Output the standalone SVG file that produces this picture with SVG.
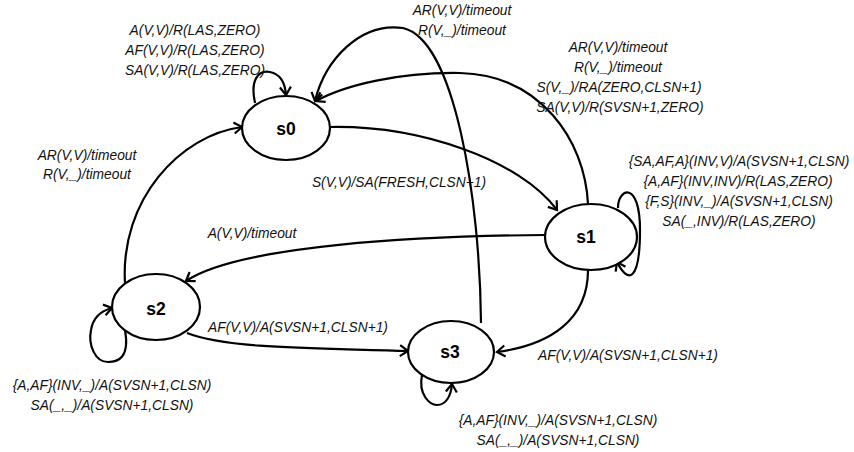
<svg xmlns="http://www.w3.org/2000/svg" width="854" height="452" viewBox="0 0 854 452">
  <style>
    .state { fill: #ffffff; stroke: #000000; stroke-width: 2.2; }
    .name { font-family: "Liberation Sans", Arial, sans-serif; font-weight: bold; font-size: 17.5px; text-anchor: middle; fill: #000000; }
    .edge { fill: none; stroke: #000000; stroke-width: 2.2; marker-end: url(#arrow); }
    .lbl { font-family: "Liberation Sans", Arial, sans-serif; font-style: italic; font-size: 13.8px; text-anchor: middle; fill: #111111; }
  </style>
  <defs>
    <marker id="arrow" markerUnits="userSpaceOnUse" markerWidth="20" markerHeight="20" viewBox="-10 -10 20 20" refX="0" refY="0" orient="auto">
      <path d="M-8,-5.5 L0,0 L-8,5.5" fill="none" stroke="#000000" stroke-width="2.2" stroke-linejoin="miter"/>
    </marker>
  </defs>
  <rect width="854" height="452" fill="#ffffff"/>

  <!-- transitions -->
  <g id="connectors">
    <!-- s0 self-loop -->
    <path class="edge" d="M255,103 C250,80 258,70 270,72 C280,74 285,82 286,95"/>
    <!-- s2 -> s0 -->
    <path class="edge" d="M125,283 C120,200 180,135 242,127"/>
    <!-- s3 -> s0 (over the top) -->
    <path class="edge" d="M481,323 C480,200 455,40 403,28 C360,22 325,60 315,101"/>
    <!-- s1 -> s0 -->
    <path class="edge" d="M588,204 C585,140 540,75 460,73 C400,72 345,85 316,101"/>
    <!-- s0 -> s1 -->
    <path class="edge" d="M329,127 C420,125 520,160 557,210"/>
    <!-- s1 -> s2 -->
    <path class="edge" d="M545,235 C420,236 240,245 186,281"/>
    <!-- s2 -> s3 -->
    <path class="edge" d="M187,333 C230,350 330,348 408,351"/>
    <!-- s1 -> s3 -->
    <path class="edge" d="M588,270 C588,320 550,345 497,352"/>
    <!-- s1 self-loop -->
    <path class="edge" d="M618,208 C618,188 640,180 640,230 C640,282 628,284 617,262"/>
    <!-- s2 self-loop -->
    <path class="edge" d="M125,330 C130,358 118,362 108,362 C95,362 88,345 91,330 C93,318 100,311 112,308"/>
    <!-- s3 self-loop -->
    <path class="edge" d="M422,375 C418,395 430,405 437,405 C446,405 451,396 452,384"/>
  </g>

  <!-- states -->
  <g id="s0">
    <ellipse class="state" cx="286" cy="128" rx="44" ry="32"/>
    <text class="name" x="286" y="135">s0</text>
  </g>
  <g id="s1">
    <ellipse class="state" cx="591" cy="237" rx="46" ry="33"/>
    <text class="name" x="586" y="243">s1</text>
  </g>
  <g id="s2">
    <ellipse class="state" cx="156" cy="307" rx="44" ry="33"/>
    <text class="name" x="156" y="315">s2</text>
  </g>
  <g id="s3">
    <ellipse class="state" cx="451" cy="352" rx="43" ry="31"/>
    <text class="name" x="450" y="358">s3</text>
  </g>

  <!-- transition labels -->
  <g id="labels">
    <text class="lbl" x="195" y="35">A(V,V)/R(LAS,ZERO)</text>
    <text class="lbl" x="195" y="55">AF(V,V)/R(LAS,ZERO)</text>
    <text class="lbl" x="195" y="75">SA(V,V)/R(LAS,ZERO)</text>

    <text class="lbl" x="87" y="160">AR(V,V)/timeout</text>
    <text class="lbl" x="87" y="179">R(V,_)/timeout</text>

    <text class="lbl" x="462" y="15">AR(V,V)/timeout</text>
    <text class="lbl" x="462" y="35">R(V,_)/timeout</text>

    <text class="lbl" x="618" y="52">AR(V,V)/timeout</text>
    <text class="lbl" x="618" y="72">R(V,_)/timeout</text>
    <text class="lbl" x="619" y="92">S(V,_)/RA(ZERO,CLSN+1)</text>
    <text class="lbl" x="620" y="112">SA(V,V)/R(SVSN+1,ZERO)</text>

    <text class="lbl" x="399" y="187">S(V,V)/SA(FRESH,CLSN+1)</text>

    <text class="lbl" x="252" y="238">A(V,V)/timeout</text>

    <text class="lbl" x="739" y="166">{SA,AF,A}(INV,V)/A(SVSN+1,CLSN)</text>
    <text class="lbl" x="738" y="186">{A,AF}(INV,INV)/R(LAS,ZERO)</text>
    <text class="lbl" x="739" y="206">{F,S}(INV,_)/A(SVSN+1,CLSN)</text>
    <text class="lbl" x="739" y="226">SA(_,INV)/R(LAS,ZERO)</text>

    <text class="lbl" x="298" y="332">AF(V,V)/A(SVSN+1,CLSN+1)</text>

    <text class="lbl" x="628" y="360">AF(V,V)/A(SVSN+1,CLSN+1)</text>

    <text class="lbl" x="558" y="425">{A,AF}(INV,_)/A(SVSN+1,CLSN)</text>
    <text class="lbl" x="558" y="445">SA(_,_)/A(SVSN+1,CLSN)</text>

    <text class="lbl" x="112" y="390">{A,AF}(INV,_)/A(SVSN+1,CLSN)</text>
    <text class="lbl" x="112" y="410">SA(_,_)/A(SVSN+1,CLSN)</text>
  </g>
</svg>
